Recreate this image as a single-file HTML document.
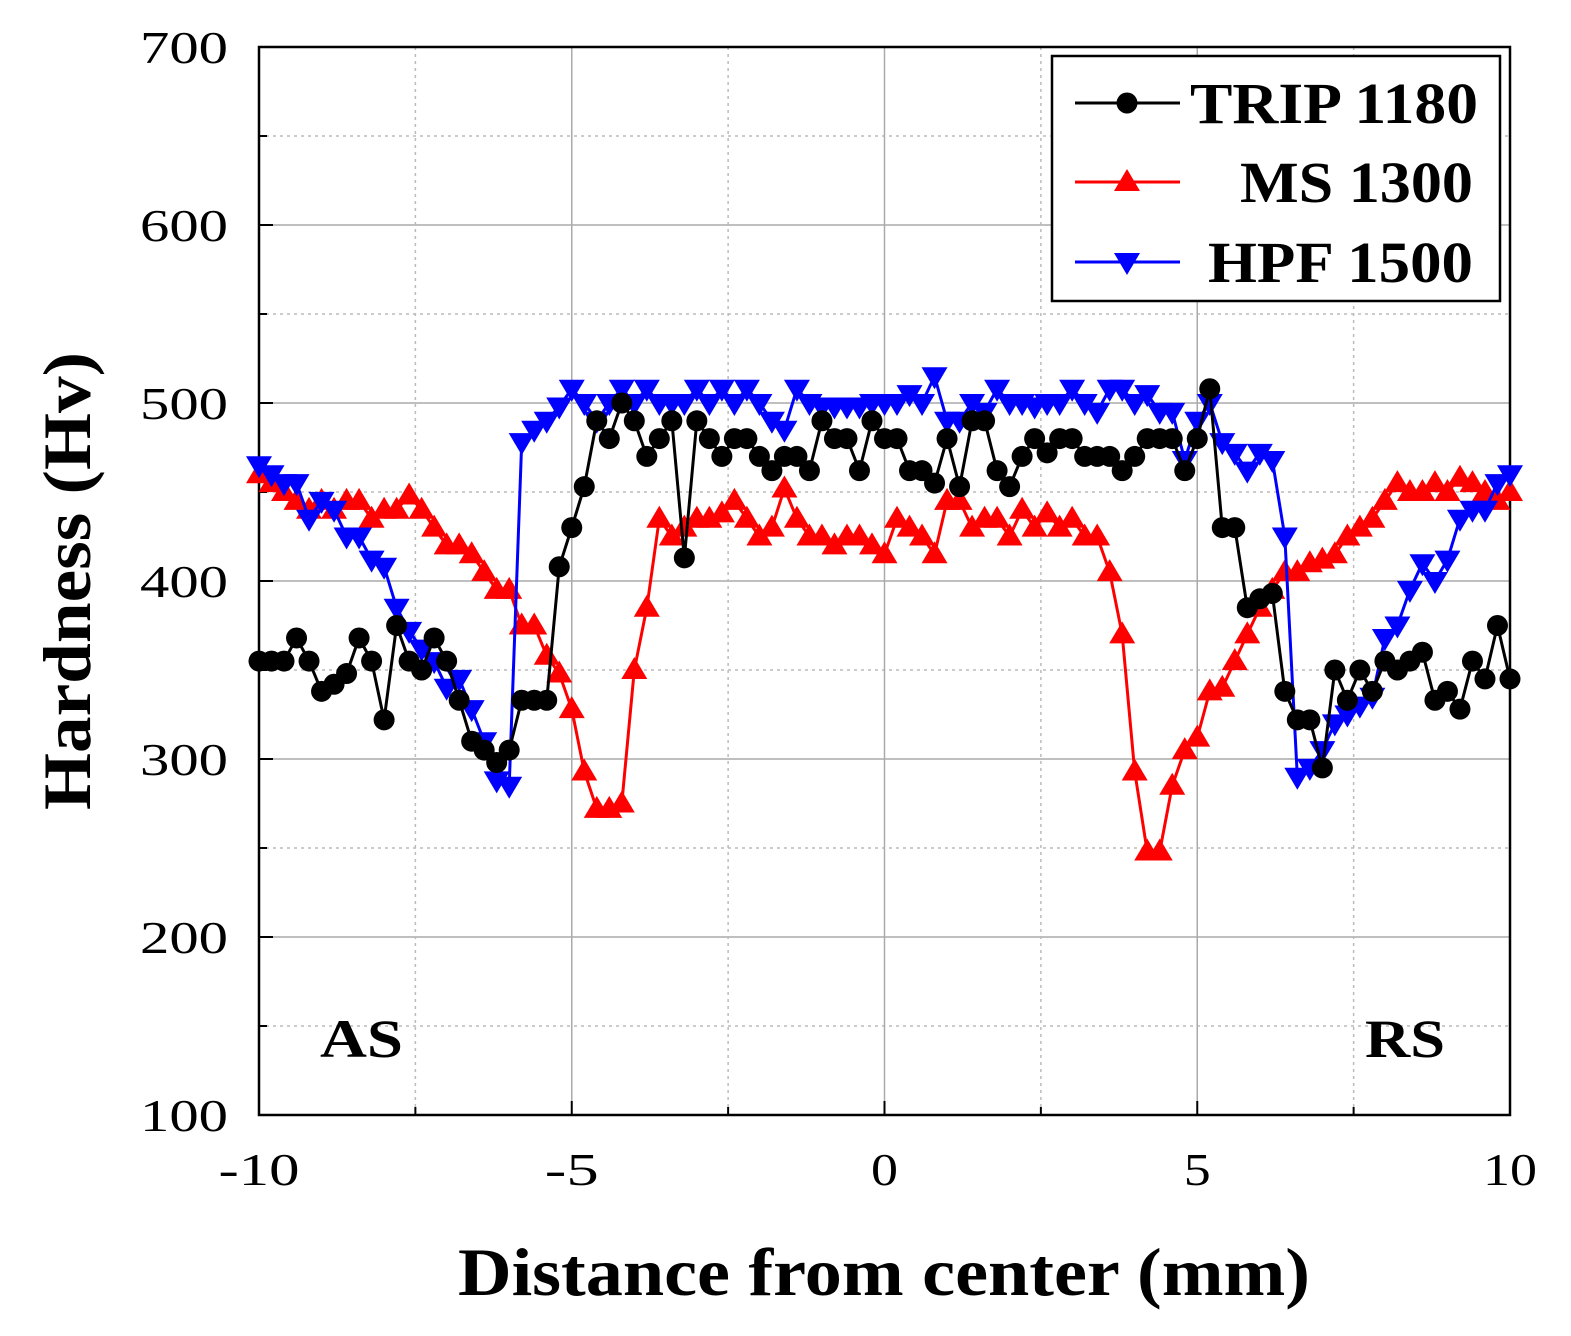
<!DOCTYPE html>
<html><head><meta charset="utf-8"><style>
html,body{margin:0;padding:0;background:#fff;}
svg text{font-family:"Liberation Serif",serif;}
</style></head><body>
<svg id="s" width="1571" height="1331" xmlns="http://www.w3.org/2000/svg">
<g id="grid"></g>
<rect x="259" y="47" width="1251" height="1068" fill="none" stroke="#000" stroke-width="2.5"/>
<g id="ticks"></g>
<g id="series"></g>
<text x="320" y="1057" font-size="54" font-weight="bold" textLength="83" lengthAdjust="spacingAndGlyphs">AS</text>
<text x="1365" y="1057" font-size="54" font-weight="bold" textLength="80" lengthAdjust="spacingAndGlyphs">RS</text>
<text x="458" y="1295" font-size="68" font-weight="bold" textLength="852" lengthAdjust="spacingAndGlyphs">Distance from center (mm)</text>
<text transform="translate(90,810) rotate(-90)" font-size="68" font-weight="bold" textLength="458" lengthAdjust="spacingAndGlyphs">Hardness (Hv)</text>
<rect x="1052" y="56" width="448" height="245" fill="#fff" stroke="#000" stroke-width="2.5"/>
<g id="legend"></g>
</svg>
<script>
const ns="http://www.w3.org/2000/svg";
function el(p,t,a,txt){const e=document.createElementNS(ns,t);for(const k in a)e.setAttribute(k,a[k]);if(txt!==undefined)e.textContent=txt;p.appendChild(e);return e;}
const X=x=>259+(x+10)*62.55, Y=v=>1115-(v-100)*1.78;
const g=document.getElementById('grid'),tk=document.getElementById('ticks'),se=document.getElementById('series'),lg=document.getElementById('legend');
for(let v=150;v<700;v+=50){const maj=v%100==0;el(g,'line',{x1:259,x2:1510,y1:Y(v),y2:Y(v),stroke:maj?'#aaa':'#bbb','stroke-width':1.5,'stroke-dasharray':maj?'':'3,4'});}
for(let x=-7.5;x<10;x+=2.5){const maj=x%5==0;el(g,'line',{x1:X(x),x2:X(x),y1:47,y2:1115,stroke:maj?'#aaa':'#bbb','stroke-width':1.5,'stroke-dasharray':maj?'':'3,4'});}
for(let v=100;v<=700;v+=50){const maj=v%100==0;el(tk,'line',{x1:259,x2:259+(maj?14:8),y1:Y(v),y2:Y(v),stroke:'#000','stroke-width':2});if(maj)el(tk,'text',{x:140,y:Y(v)+16,'font-size':46,textLength:88,lengthAdjust:'spacingAndGlyphs'},v);}
for(let x=-10;x<=10;x+=2.5){const maj=x%5==0;el(tk,'line',{x1:X(x),x2:X(x),y1:1115,y2:1115-(maj?14:8),stroke:'#000','stroke-width':2});if(maj){const s=String(x);const w=s.length*27;el(tk,'text',{x:X(x)-w/2,y:1185,'font-size':46,textLength:w,lengthAdjust:'spacingAndGlyphs'},s);}}
const trip=[355,355,355,368,355,338,342,348,368,355,322,375,355,350,368,355,333,310,305,298,305,333,333,333,408,430,453,490,480,500,490,470,480,490,413,490,480,470,480,480,470,462,470,470,462,490,480,480,462,490,480,480,462,462,455,480,453,490,490,462,453,470,480,472,480,480,470,470,470,462,470,480,480,480,462,480,508,430,430,385,390,393,338,322,322,295,350,333,350,338,355,350,355,360,333,338,328,355,345,375,345];
const ms=[460,455,450,445,440,445,440,445,445,435,440,440,448,440,430,420,420,415,405,395,395,375,375,358,348,328,293,272,272,275,350,385,435,425,430,435,435,438,445,435,425,430,452,435,425,425,420,425,425,420,415,435,430,425,415,445,445,430,435,435,425,440,430,438,430,435,425,425,405,370,293,248,248,285,305,312,338,340,355,370,385,395,405,405,410,412,415,425,430,435,445,455,450,450,455,450,458,455,450,445,450];
const hpf=[465,460,455,455,435,445,440,425,425,412,408,385,372,362,355,340,345,328,310,288,285,478,485,490,498,508,500,490,500,508,500,508,500,500,500,508,500,508,500,508,500,490,485,508,500,498,498,498,498,500,500,500,505,500,515,490,490,500,495,508,500,500,498,500,500,508,500,495,508,508,500,505,495,495,468,490,500,478,472,462,472,468,425,290,295,305,320,325,330,335,368,375,395,410,400,412,435,440,440,455,460];
function marker(p,type,x,y,c){
 if(type=='c')el(p,'circle',{cx:x,cy:y,r:10.5,fill:c});
 else if(type=='u')el(p,'polygon',{points:`${x},${y-13} ${x-13},${y+9} ${x+13},${y+9}`,fill:c});
 else el(p,'polygon',{points:`${x},${y+13} ${x-13},${y-9} ${x+13},${y-9}`,fill:c});
}
function series(d,c,t){const pts=d.map((v,i)=>[X(-10+i*0.2),Y(v)]);el(se,'polyline',{points:pts.map(p=>p.join(',')).join(' '),fill:'none',stroke:c,'stroke-width':3});pts.forEach(p=>marker(se,t,p[0],p[1],c));}
series(ms,'#f00','u');series(hpf,'#00f','d');series(trip,'#000','c');
const L=[['TRIP 1180','#000','c',103,1190,288],['MS 1300','#f00','u',182,1240,233],['HPF 1500','#00f','d',262,1208,265]];
L.forEach(([n,c,t,y,tx,w])=>{el(lg,'line',{x1:1075,x2:1180,y1:y,y2:y,stroke:c,'stroke-width':3});marker(lg,t,1127,y,c);el(lg,'text',{x:tx,y:y+20,'font-size':58,'font-weight':'bold',textLength:w,lengthAdjust:'spacingAndGlyphs'},n);});
</script>
</body></html>
